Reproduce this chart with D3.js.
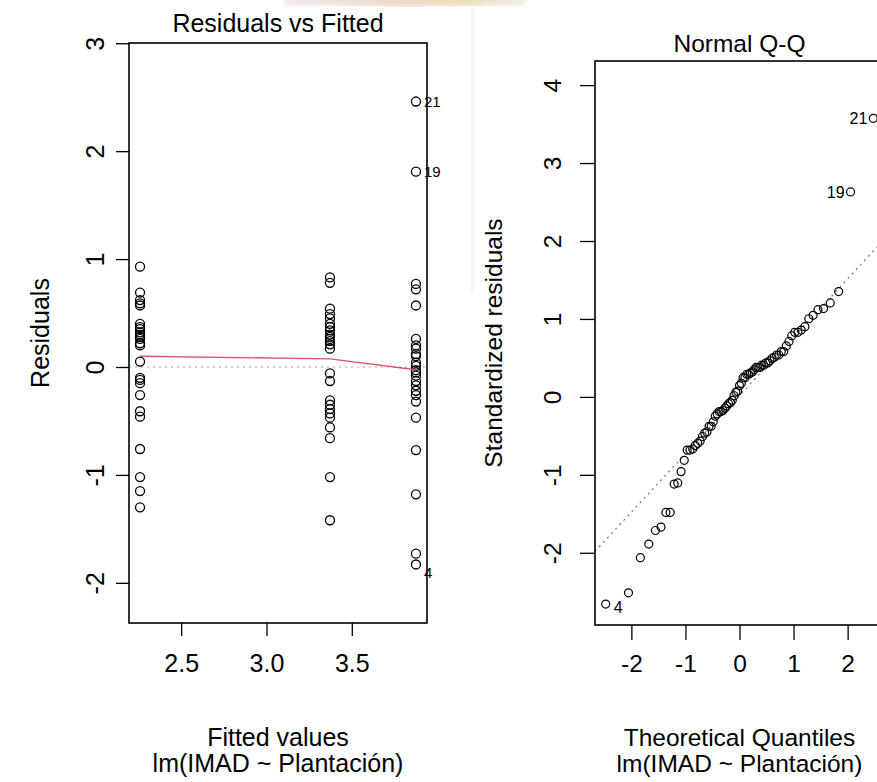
<!DOCTYPE html>
<html>
<head>
<meta charset="utf-8">
<script src="https://cdn.jsdelivr.net/npm/d3@7"></script>
<style>
  html, body { margin: 0; padding: 0; background: #fff; overflow: hidden; }
  text { font-family: "Liberation Sans", Arial, Helvetica, sans-serif; fill: #000; }
</style>
</head>
<body>
<svg id="chart" width="877" height="782"></svg>
<script>
// ---------------- data ----------------
const fittedLevels = [2.259, 3.372, 3.876];
const residGroup1 = [0.93, 0.69, 0.62, 0.59, 0.57, 0.40, 0.37, 0.35, 0.32, 0.30, 0.28, 0.26, 0.22, 0.20, 0.05,
                     -0.10, -0.12, -0.15, -0.26, -0.41, -0.46, -0.76, -1.02, -1.15, -1.30];
const residGroup2 = [0.83, 0.78, 0.54, 0.49, 0.45, 0.40, 0.37, 0.34, 0.30, 0.28, 0.26, 0.24, 0.21, 0.17,
                     -0.06, -0.13, -0.31, -0.35, -0.39, -0.43, -0.47, -0.56, -0.66, -1.02, -1.42];
const residGroup3 = [2.46, 1.81, 0.77, 0.72, 0.57, 0.26, 0.20, 0.17, 0.12, 0.10, 0.04, 0.01,
                     -0.03, -0.05, -0.08, -0.13, -0.17, -0.22, -0.26, -0.32, -0.47, -0.77, -1.18, -1.73, -1.83];
const smoothFitted = [2.259, 3.372, 3.876];
const smoothResid  = [0.10, 0.075, -0.025];
const idLabels = ["21", "4", "19"];          // labels of the 3 most extreme |residuals| (largest first)
const xTicksLeft = [2.5, 3.0, 3.5];
const yTicksLeft = [-2, -1, 0, 1, 2, 3];
const xTicksQQ = [-2, -1, 0, 1, 2];
const yTicksQQ = [-2, -1, 0, 1, 2, 3, 4];
const titles = ["Residuals vs Fitted", "Normal Q-Q"];
const xLabels = ["Fitted values", "Theoretical Quantiles"];
const yLabels = ["Residuals", "Standardized residuals"];
const subCaption = "lm(IMAD ~ Plantación)";

// ---------------- derived ----------------
const groups = [residGroup1, residGroup2, residGroup3];
const pts = [];
groups.forEach((g, gi) => g.forEach(r => pts.push({fit: fittedLevels[gi], r, n: g.length})));
const n = pts.length, p = 3;
const ssr = d3.sum(pts, d => d.r * d.r);
const sigma = Math.sqrt(ssr / (n - p));
pts.forEach(d => { d.std = d.r / (sigma * Math.sqrt(1 - 1 / d.n)); });
const extreme = pts.slice().sort((a, b) => Math.abs(b.r) - Math.abs(a.r)).slice(0, 3);
extreme.forEach((d, i) => d.label = idLabels[i]);

function qnorm(p) {
  const a = [-3.969683028665376e+01, 2.209460984245205e+02, -2.759285104469687e+02, 1.383577518672690e+02, -3.066479806614716e+01, 2.506628277459239e+00];
  const b = [-5.447609879822406e+01, 1.615858368580409e+02, -1.556989798598866e+02, 6.680131188771972e+01, -1.328068155288572e+01];
  const c = [-7.784894002430293e-03, -3.223964580411365e-01, -2.400758277161838e+00, -2.549732539343734e+00, 4.374664141464968e+00, 2.938163982698783e+00];
  const dd = [7.784695709041462e-03, 3.224671290700398e-01, 2.445134137142996e+00, 3.754408661907416e+00];
  const pl = 0.02425, ph = 1 - pl;
  let q, r;
  if (p < pl) { q = Math.sqrt(-2 * Math.log(p));
    return (((((c[0]*q+c[1])*q+c[2])*q+c[3])*q+c[4])*q+c[5]) / ((((dd[0]*q+dd[1])*q+dd[2])*q+dd[3])*q+1); }
  if (p <= ph) { q = p - 0.5; r = q * q;
    return (((((a[0]*r+a[1])*r+a[2])*r+a[3])*r+a[4])*r+a[5])*q / (((((b[0]*r+b[1])*r+b[2])*r+b[3])*r+b[4])*r+1); }
  q = Math.sqrt(-2 * Math.log(1 - p));
  return -(((((c[0]*q+c[1])*q+c[2])*q+c[3])*q+c[4])*q+c[5]) / ((((dd[0]*q+dd[1])*q+dd[2])*q+dd[3])*q+1);
}
const sorted = pts.slice().sort((a, b) => a.std - b.std);
sorted.forEach((d, i) => { d.theo = qnorm((i + 1 - 0.5) / n); });
const stdVals = sorted.map(d => d.std);
const q1 = d3.quantile(stdVals, 0.25), q3 = d3.quantile(stdVals, 0.75);
const slope = (q3 - q1) / (qnorm(0.75) - qnorm(0.25));
const intercept = q1 - slope * qnorm(0.25);

// ---------------- drawing ----------------
const svg = d3.select("#chart");
const minus = d => (d < 0 ? "-" + Math.abs(d) : String(d));
function rlim(lo, hi) { const e = (hi - lo) * 0.04; return [lo - e, hi + e]; }

function styleAxis(a, fs) {
  a.select(".domain").remove();
  a.selectAll("line").attr("stroke", "#000").attr("stroke-width", 1.3);
  a.selectAll("text").attr("font-size", fs).attr("fill", "#000").attr("font-family", null);
}

// faint screenshot artefacts seen in the reference (top strip, thin grey band)
const defs = svg.append("defs");
defs.append("filter").attr("id", "blur").append("feGaussianBlur").attr("stdDeviation", 2.5);
const grad = defs.append("linearGradient").attr("id", "topgrad");
grad.append("stop").attr("offset", "0%").attr("stop-color", "#f3ece8");
grad.append("stop").attr("offset", "45%").attr("stop-color", "#e9d6c6");
grad.append("stop").attr("offset", "75%").attr("stop-color", "#eadcb8");
grad.append("stop").attr("offset", "100%").attr("stop-color", "#f4efe9");
svg.append("rect").attr("x", 285).attr("y", -4).attr("width", 240).attr("height", 10)
  .attr("fill", "url(#topgrad)").attr("filter", "url(#blur)");
svg.append("rect").attr("x", 470).attr("y", 8).attr("width", 5).attr("height", 285)
  .attr("fill", "#f8f8f8");

// ---- Panel 1 : Residuals vs Fitted ----
const FS1 = 25, ID1 = 15, R1 = 4.5, TICK1 = 13;
const L = {x0: 129, x1: 427, y0: 43, y1: 623};
const fitExt = d3.extent(pts, d => d.fit);
const rExt = d3.extent(pts, d => d.r);
const er = (rExt[1] - rExt[0]) * 0.08;
const x1s = d3.scaleLinear().domain(rlim(fitExt[0], fitExt[1])).range([L.x0, L.x1]);
const y1s = d3.scaleLinear().domain(rlim(rExt[0] - er, rExt[1] + er)).range([L.y1, L.y0]);

const g1 = svg.append("g");
g1.append("defs").append("clipPath").attr("id", "clip1").append("rect")
  .attr("x", L.x0).attr("y", L.y0).attr("width", L.x1 - L.x0).attr("height", L.y1 - L.y0);
g1.append("line").attr("clip-path", "url(#clip1)")
  .attr("x1", L.x0).attr("x2", L.x1).attr("y1", y1s(0)).attr("y2", y1s(0))
  .attr("stroke", "#bebebe").attr("stroke-width", 1.3).attr("stroke-dasharray", "2,4");
g1.selectAll("circle.pt").data(pts).join("circle").attr("class", "pt")
  .attr("cx", d => x1s(d.fit)).attr("cy", d => y1s(d.r)).attr("r", R1)
  .attr("fill", "none").attr("stroke", "#000").attr("stroke-width", 1.3);
g1.append("path")
  .datum(smoothFitted.map((f, i) => [f, smoothResid[i]]))
  .attr("d", d3.line().x(d => x1s(d[0])).y(d => y1s(d[1])))
  .attr("fill", "none").attr("stroke", "#DF536B").attr("stroke-width", 1.4);
g1.append("rect").attr("x", L.x0).attr("y", L.y0).attr("width", L.x1 - L.x0).attr("height", L.y1 - L.y0)
  .attr("fill", "none").attr("stroke", "#000").attr("stroke-width", 1.6);
extreme.forEach(d => {
  const cx = x1s(d.fit), cy = y1s(d.r);
  const t = g1.append("text").attr("font-size", ID1).text(d.label);
  if (d.r < 0) t.attr("x", cx + 8).attr("y", cy + 14);
  else t.attr("x", cx + 8).attr("y", cy + 5.5);
});
const ax1 = g1.append("g").attr("transform", `translate(0,${L.y1})`)
  .call(d3.axisBottom(x1s).tickValues(xTicksLeft).tickFormat(d3.format(".1f")).tickSize(TICK1).tickPadding(18));
const ay1 = g1.append("g").attr("transform", `translate(${L.x0},0)`)
  .call(d3.axisLeft(y1s).tickValues(yTicksLeft).tickFormat(minus).tickSize(TICK1).tickPadding(8));
styleAxis(ax1, FS1); styleAxis(ay1, FS1);
ay1.selectAll(".tick text").attr("text-anchor", "middle").attr("x", null)
  .attr("transform", "translate(-34,0) rotate(-90)").attr("dy", "0.35em");

g1.append("text").attr("x", (L.x0 + L.x1) / 2).attr("y", 32).attr("text-anchor", "middle")
  .attr("font-size", FS1).text(titles[0]);
g1.append("text").attr("x", (L.x0 + L.x1) / 2).attr("y", 746).attr("text-anchor", "middle")
  .attr("font-size", FS1).text(xLabels[0]);
g1.append("text").attr("x", (L.x0 + L.x1) / 2).attr("y", 772).attr("text-anchor", "middle")
  .attr("font-size", FS1).text(subCaption);
g1.append("text").attr("transform", `translate(49,${(L.y0 + L.y1) / 2}) rotate(-90)`)
  .attr("text-anchor", "middle").attr("font-size", FS1).text(yLabels[0]);

// ---- Panel 2 : Normal Q-Q ----
const FS2 = 24.5, ID2 = 16, R2 = 4.0, TICK2 = 15;
const Q = {x0: 595, x1: 884, y0: 61, y1: 625};
const theoExt = d3.extent(sorted, d => d.theo);
const stdExt = d3.extent(sorted, d => d.std);
const yq = [stdExt[0], stdExt[1] + (stdExt[1] - stdExt[0]) * 0.075];
const x2s = d3.scaleLinear().domain(rlim(theoExt[0], theoExt[1])).range([Q.x0, Q.x1]);
const y2s = d3.scaleLinear().domain(rlim(yq[0], yq[1])).range([Q.y1, Q.y0]);

const g2 = svg.append("g");
g2.append("defs").append("clipPath").attr("id", "clip2").append("rect")
  .attr("x", Q.x0).attr("y", Q.y0).attr("width", Q.x1 - Q.x0).attr("height", Q.y1 - Q.y0);
const xd = x2s.domain();
g2.append("line").attr("clip-path", "url(#clip2)")
  .attr("x1", x2s(xd[0])).attr("y1", y2s(intercept + slope * xd[0]))
  .attr("x2", x2s(xd[1])).attr("y2", y2s(intercept + slope * xd[1]))
  .attr("stroke", "#7f7f7f").attr("stroke-width", 1.3).attr("stroke-dasharray", "2,4");
g2.selectAll("circle.pt").data(sorted).join("circle").attr("class", "pt")
  .attr("cx", d => x2s(d.theo)).attr("cy", d => y2s(d.std)).attr("r", R2)
  .attr("fill", "none").attr("stroke", "#000").attr("stroke-width", 1.2);
g2.append("rect").attr("x", Q.x0).attr("y", Q.y0).attr("width", Q.x1 - Q.x0).attr("height", Q.y1 - Q.y0)
  .attr("fill", "none").attr("stroke", "#000").attr("stroke-width", 1.6);
extreme.forEach(d => {
  const cx = x2s(d.theo), cy = y2s(d.std);
  const t = g2.append("text").attr("font-size", ID2).text(d.label);
  if (d.std < 0) t.attr("x", cx + 8).attr("y", cy + 9);
  else t.attr("x", cx - 6).attr("y", cy + 6).attr("text-anchor", "end");
});
const ax2 = g2.append("g").attr("transform", `translate(0,${Q.y1})`)
  .call(d3.axisBottom(x2s).tickValues(xTicksQQ).tickFormat(minus).tickSize(TICK2).tickPadding(15));
const ay2 = g2.append("g").attr("transform", `translate(${Q.x0},0)`)
  .call(d3.axisLeft(y2s).tickValues(yTicksQQ).tickFormat(minus).tickSize(TICK2).tickPadding(8));
styleAxis(ax2, FS2); styleAxis(ay2, FS2);
ay2.selectAll(".tick text").attr("text-anchor", "middle").attr("x", null)
  .attr("transform", "translate(-43,0) rotate(-90)").attr("dy", "0.35em");

g2.append("text").attr("x", (Q.x0 + Q.x1) / 2).attr("y", 52).attr("text-anchor", "middle")
  .attr("font-size", FS2).text(titles[1]);
g2.append("text").attr("x", (Q.x0 + Q.x1) / 2).attr("y", 746).attr("text-anchor", "middle")
  .attr("font-size", FS2).text(xLabels[1]);
g2.append("text").attr("x", (Q.x0 + Q.x1) / 2).attr("y", 772).attr("text-anchor", "middle")
  .attr("font-size", FS2).text(subCaption);
g2.append("text").attr("transform", `translate(502,${(Q.y0 + Q.y1) / 2}) rotate(-90)`)
  .attr("text-anchor", "middle").attr("font-size", FS2).text(yLabels[1]);
</script>
</body>
</html>
